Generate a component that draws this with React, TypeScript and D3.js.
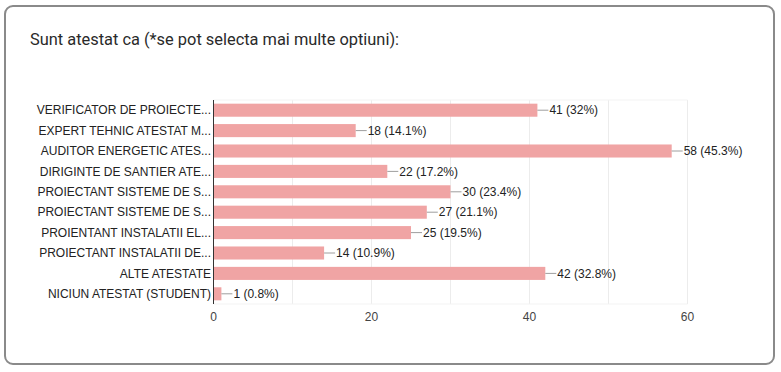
import React, { useEffect, useRef } from "react";
import * as d3 from "d3";

const categories = [
  "VERIFICATOR DE PROIECTE...",
  "EXPERT TEHNIC ATESTAT M...",
  "AUDITOR ENERGETIC ATES...",
  "DIRIGINTE DE SANTIER ATE...",
  "PROIECTANT SISTEME DE S...",
  "PROIECTANT SISTEME DE S...",
  "PROIENTANT INSTALATII EL...",
  "PROIECTANT INSTALATII DE...",
  "ALTE ATESTATE",
  "NICIUN ATESTAT (STUDENT)",
];
const counts = [41, 18, 58, 22, 30, 27, 25, 14, 42, 1];
const percents = ["32%", "14.1%", "45.3%", "17.2%", "23.4%", "21.1%", "19.5%", "10.9%", "32.8%", "0.8%"];
const xTicks = [0, 20, 40, 60];
const gridTicks = [0, 10, 20, 30, 40, 50, 60];

const width = 781;
const height = 372;
const plot = { left: 213.5, right: 687.5, top: 100, bottom: 304 };
const barColor = "#f0a4a4";
const labelFont = "Arial, 'Liberation Sans', sans-serif";

export default function App() {
  const ref = useRef<SVGSVGElement>(null);

  useEffect(() => {
    const svg = d3.select(ref.current);
    svg.selectAll("*").remove();

    const xScale = d3.scaleLinear().domain([0, 60]).range([plot.left, plot.right]);
    const yScale = d3
      .scaleBand()
      .domain(categories.map((c, i) => i + ""))
      .range([plot.top, plot.bottom])
      .paddingInner(0.36)
      .paddingOuter(0.18);

    // card
    svg
      .append("rect")
      .attr("x", 5)
      .attr("y", 6)
      .attr("width", 769)
      .attr("height", 358)
      .attr("rx", 8)
      .attr("fill", "#fff")
      .attr("stroke", "#8a8a8a")
      .attr("stroke-width", 2);

    svg
      .append("text")
      .attr("x", 30)
      .attr("y", 45)
      .attr("font-family", "Roboto, sans-serif")
      .attr("font-size", 16.4)
      .attr("fill", "#2a2a2a")
      .text("Sunt atestat ca (*se pot selecta mai multe optiuni):");

    // gridlines
    svg
      .append("g")
      .selectAll("line")
      .data(gridTicks)
      .enter()
      .append("line")
      .attr("x1", (d) => xScale(d))
      .attr("x2", (d) => xScale(d))
      .attr("y1", plot.top)
      .attr("y2", plot.bottom)
      .attr("stroke", "#ececec");
    svg
      .append("line")
      .attr("x1", plot.left)
      .attr("x2", plot.right)
      .attr("y1", plot.top)
      .attr("y2", plot.top)
      .attr("stroke", "#f3f3f3");
    svg
      .append("line")
      .attr("x1", plot.left)
      .attr("x2", plot.right)
      .attr("y1", plot.bottom)
      .attr("y2", plot.bottom)
      .attr("stroke", "#f3f3f3");

    const rows = svg
      .append("g")
      .selectAll("g")
      .data(counts)
      .enter()
      .append("g");

    rows
      .append("rect")
      .attr("x", xScale(0))
      .attr("y", (d, i) => yScale(i + "")!)
      .attr("width", (d) => xScale(d) - xScale(0))
      .attr("height", yScale.bandwidth())
      .attr("fill", barColor);

    rows
      .append("line")
      .attr("x1", (d) => xScale(d))
      .attr("x2", (d) => xScale(d) + 11)
      .attr("y1", (d, i) => yScale(i + "")! + yScale.bandwidth() / 2)
      .attr("y2", (d, i) => yScale(i + "")! + yScale.bandwidth() / 2)
      .attr("stroke", "#9e9e9e");

    rows
      .append("text")
      .attr("x", (d) => xScale(d) + 12)
      .attr("y", (d, i) => yScale(i + "")! + yScale.bandwidth() / 2)
      .attr("dy", "0.35em")
      .attr("font-family", labelFont)
      .attr("font-size", 12)
      .attr("fill", "#222")
      .text((d, i) => `${d} (${percents[i]})`);

    rows
      .append("text")
      .attr("x", plot.left - 2.5)
      .attr("y", (d, i) => yScale(i + "")! + yScale.bandwidth() / 2)
      .attr("dy", "0.35em")
      .attr("text-anchor", "end")
      .attr("font-family", labelFont)
      .attr("font-size", 12)
      .attr("fill", "#222")
      .text((d, i) => categories[i]);

    // axis line
    svg
      .append("line")
      .attr("x1", plot.left)
      .attr("x2", plot.left)
      .attr("y1", plot.top)
      .attr("y2", plot.bottom)
      .attr("stroke", "#333");

    svg
      .append("g")
      .selectAll("text")
      .data(xTicks)
      .enter()
      .append("text")
      .attr("x", (d) => xScale(d))
      .attr("y", 317)
      .attr("dy", "0.35em")
      .attr("text-anchor", "middle")
      .attr("font-family", labelFont)
      .attr("font-size", 12)
      .attr("fill", "#444")
      .text((d) => d);
  }, []);

  return (
    <svg
      ref={ref}
      width={width}
      height={height}
      style={{ position: "absolute", left: 0, top: 0 }}
    />
  );
}
